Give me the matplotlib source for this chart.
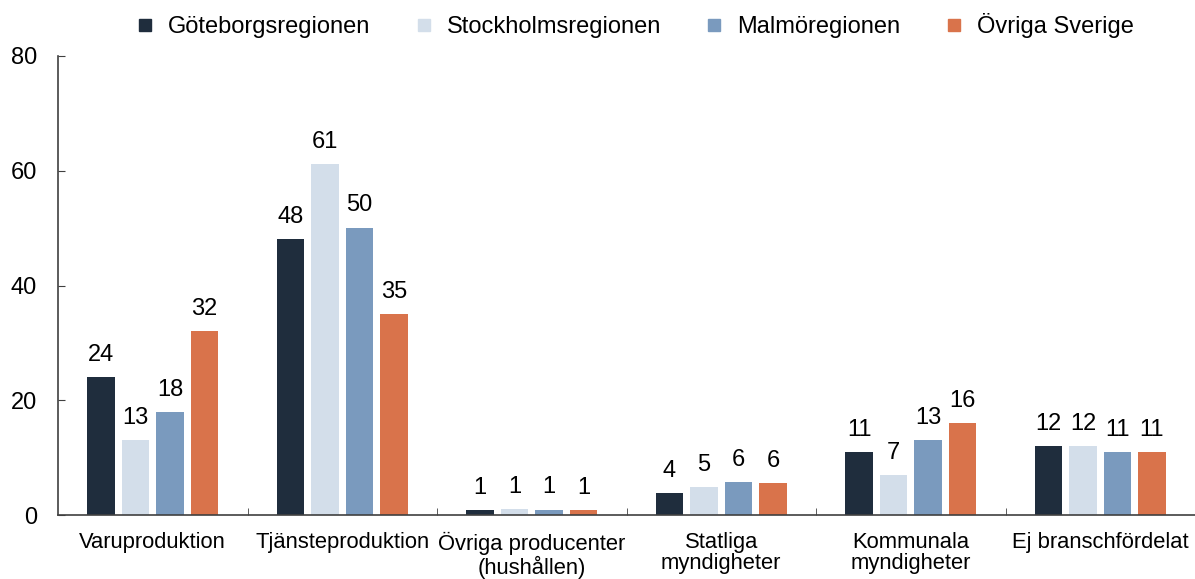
import numpy as np
import matplotlib
matplotlib.use('Agg')
import matplotlib.pyplot as plt
from matplotlib.lines import Line2D

plt.rcParams['font.family'] = ['Liberation Sans', 'DejaVu Sans']

# Kategorier och serier
kategorier = ['Varuproduktion', 'Tjänsteproduktion', 'Övriga producenter\n(hushållen)',
              'Statliga\nmyndigheter', 'Kommunala\nmyndigheter', 'Ej branschfördelat']
serier = ['Göteborgsregionen', 'Stockholmsregionen', 'Malmöregionen', 'Övriga Sverige']

goteborg = [24.0, 48.1, 0.8, 3.8, 11.0, 12.0]
stockholm = [13.0, 61.1, 1.1, 4.8, 6.9, 12.0]
malmo = [18.0, 50.1, 0.95, 5.8, 13.0, 11.0]
ovriga = [32.1, 35.0, 0.85, 5.6, 16.0, 11.0]

farger = ['#1f2d3d', '#d3deea', '#7a9abe', '#d9734b']

fig = plt.figure(figsize=(11.95, 5.79), dpi=100)
ax = fig.add_axes([58 / 1195, 64 / 579, 1 - 58 / 1195, (515 - 56) / 579])

x = np.arange(len(kategorier))
steg = 0.182
bredd = 0.143
for i, (namn, varden, farg) in enumerate(zip(serier, [goteborg, stockholm, malmo, ovriga], farger)):
    pos = x + (i - 1.5) * steg
    staplar = ax.bar(pos, varden, width=bredd, color=farg, label=namn)
    ax.bar_label(staplar, labels=[f'{v:.0f}' for v in varden], padding=8, fontsize=17)

ax.set_xlim(-0.5, len(kategorier) - 0.5)
ax.set_ylim(0, 80)
ax.set_yticks([0, 20, 40, 60, 80])

ax.set_xticks(x)
ax.set_xticklabels(kategorier, fontsize=15.8, linespacing=1.05)
ax.set_xticks(np.arange(0.5, len(kategorier)), minor=True)
ax.tick_params(axis='x', which='major', length=0, pad=12)
ax.tick_params(axis='x', which='minor', direction='in', length=5, color='#404040')
ax.tick_params(axis='y', direction='in', length=5, pad=15, labelsize=17, color='#404040')

for s in ['top', 'right']:
    ax.spines[s].set_visible(False)
for s in ['left', 'bottom']:
    ax.spines[s].set_color('#404040')
    ax.spines[s].set_linewidth(1.2)

handtag = [Line2D([], [], marker='s', linestyle='none', markersize=9, color=f) for f in farger]
fig.legend(handtag, serier, loc='upper center', bbox_to_anchor=(0.532, 1.014), ncol=4,
           frameon=False, fontsize=17, handlelength=0.6, handletextpad=0.68, columnspacing=1.95)

fig.savefig('out.png', dpi=100)
